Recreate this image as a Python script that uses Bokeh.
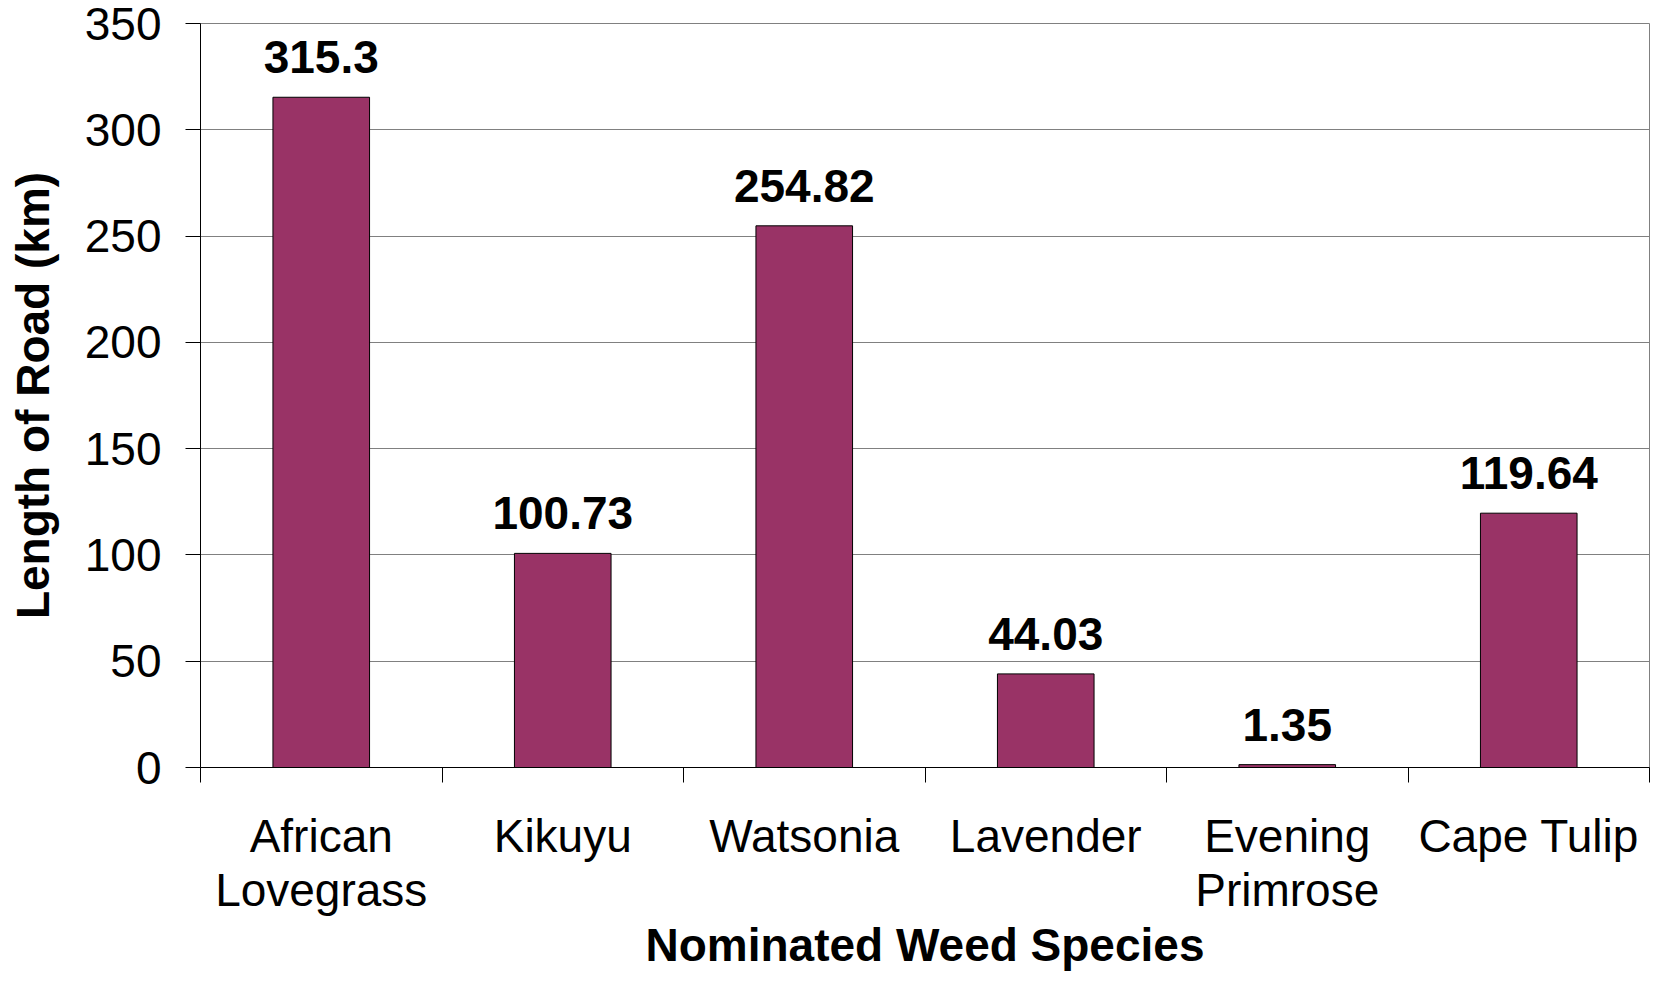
from bokeh.plotting import figure
from bokeh.models import ColumnDataSource, Range1d, FixedTicker, LinearAxis
from bokeh.core.properties import value
from bokeh.embed import file_html
from bokeh.resources import INLINE

categories = ["African\nLovegrass", "Kikuyu", "Watsonia", "Lavender", "Evening\nPrimrose", "Cape Tulip"]
lengths = [315.3, 100.73, 254.82, 44.03, 1.35, 119.64]
value_labels = ["315.3", "100.73", "254.82", "44.03", "1.35", "119.64"]
y_ticks = [0, 50, 100, 150, 200, 250, 300, 350]

FONT = "Liberation Sans"
n = len(categories)
centers = [i + 0.5 for i in range(n)]
bounds = list(range(n + 1))

src = ColumnDataSource(dict(x=centers, v=lengths, lbl=value_labels))

p = figure(width=1650, height=974, output_backend="svg", toolbar_location=None,
           x_range=Range1d(0, n), y_range=Range1d(0, 350),
           min_border_left=200, min_border_right=1, min_border_top=23, min_border_bottom=207,
           x_axis_type=None)
p.background_fill_color = "white"
p.border_fill_color = "white"
p.outline_line_color = "#808080"
p.outline_line_width = 1

p.vbar(x="x", top="v", width=0.4, source=src, fill_color="#993366",
       line_color="black", line_width=1)
p.text(x="x", y="v", text="lbl", source=src, text_font=value(FONT), text_font_style="bold",
       text_font_size="46px", text_align="center", text_baseline="alphabetic",
       y_offset=-40, text_color="black")

# x axis: labels at centers, ticks at category boundaries
xaxis = LinearAxis(ticker=FixedTicker(ticks=centers, minor_ticks=bounds))
xaxis.major_label_overrides = {c: lab for c, lab in zip(centers, categories)}
xaxis.major_tick_line_color = None
xaxis.major_tick_out = 0
xaxis.major_tick_in = 0
xaxis.minor_tick_line_color = "black"
xaxis.minor_tick_out = 15
xaxis.minor_tick_in = 0
xaxis.axis_line_color = "black"
xaxis.major_label_text_font = FONT
xaxis.major_label_text_font_size = "46px"
xaxis.major_label_text_color = "black"
xaxis.major_label_text_line_height = 1.04
xaxis.major_label_standoff = 27
xaxis.axis_label = "Nominated Weed Species"
xaxis.axis_label_text_font = FONT
xaxis.axis_label_text_font_size = "46px"
xaxis.axis_label_text_font_style = "bold"
xaxis.axis_label_text_color = "black"
xaxis.axis_label_standoff = 0
p.add_layout(xaxis, "below")

yaxis = p.yaxis[0]
yaxis.ticker = FixedTicker(ticks=y_ticks)
yaxis.minor_tick_line_color = None
yaxis.major_tick_out = 15
yaxis.major_tick_in = 0
yaxis.major_tick_line_color = "black"
yaxis.axis_line_color = "black"
yaxis.major_label_text_font = FONT
yaxis.major_label_text_font_size = "46px"
yaxis.major_label_text_color = "black"
yaxis.major_label_standoff = 24
yaxis.axis_label = "Length of Road (km)"
yaxis.axis_label_text_font = FONT
yaxis.axis_label_text_font_size = "46px"
yaxis.axis_label_text_font_style = "bold"
yaxis.axis_label_text_color = "black"
yaxis.axis_label_standoff = 23

p.xgrid.visible = False
p.ygrid.ticker = FixedTicker(ticks=y_ticks)
p.ygrid.grid_line_color = "#808080"
p.ygrid.grid_line_width = 1

open("out.html", "w").write(file_html(p, INLINE))
